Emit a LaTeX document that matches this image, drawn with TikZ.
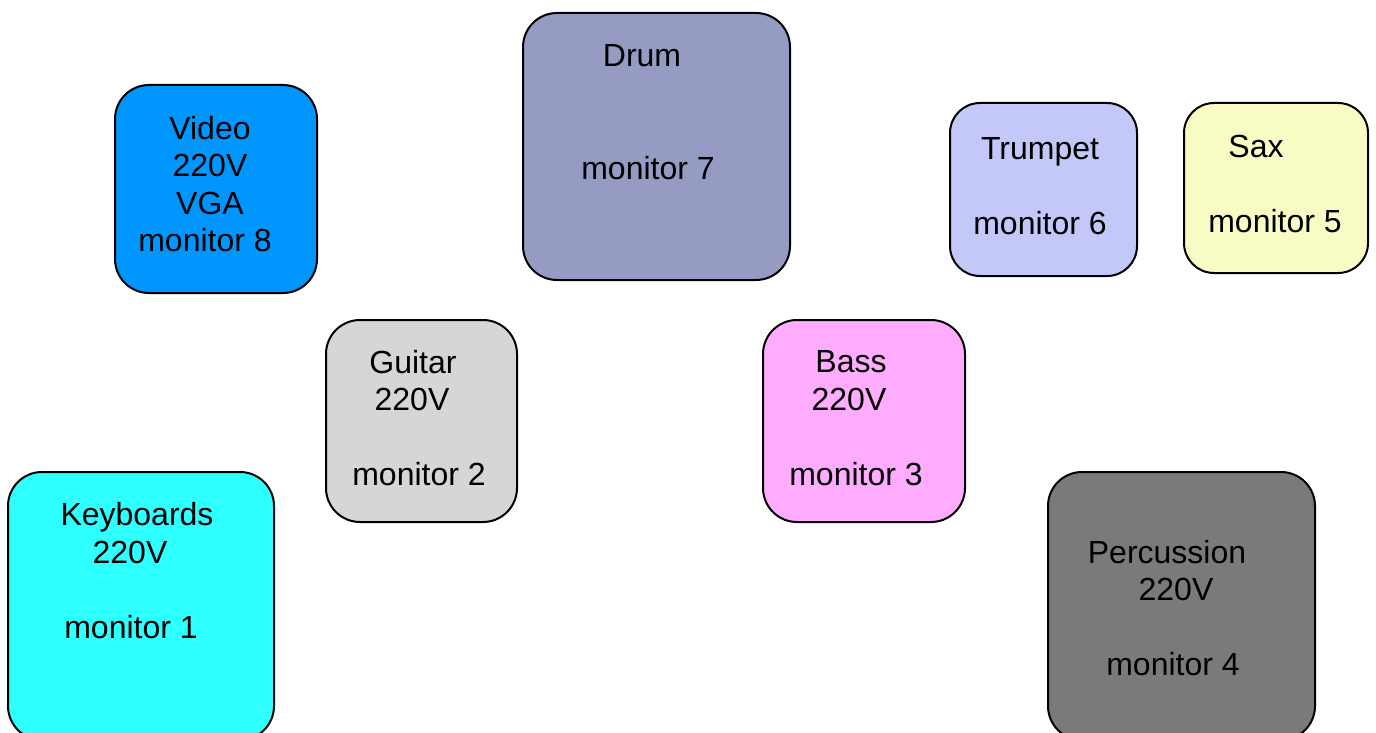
\documentclass[tikz,border=0pt]{standalone}
\usepackage{fontspec}
\setmainfont{Liberation Sans}
\usetikzlibrary{positioning}

\definecolor{videoblue}{RGB}{0,150,255}
\definecolor{drumblue}{RGB}{150,155,195}
\definecolor{trumpetblue}{RGB}{195,200,248}
\definecolor{saxyellow}{RGB}{248,251,195}
\definecolor{guitargray}{RGB}{214,214,214}
\definecolor{basspink}{RGB}{255,172,255}
\definecolor{keyscyan}{RGB}{46,255,255}
\definecolor{percgray}{RGB}{122,122,122}

\tikzset{
  stagebox/.style={draw=black, line width=1pt, rounded corners=17pt},
  stagetext/.style={align=center, inner sep=0pt,
    font=\fontsize{16}{18.75}\selectfont}
}

\begin{document}
\begin{tikzpicture}[x=0.5pt, y=-0.5pt]
  \useasboundingbox (0,0) rectangle (1376,733);
  % instruments
  \node [stagebox, fill=videoblue, minimum width=101pt, minimum height=104pt] (video) at (216,189) {};
  \node [stagebox, fill=drumblue, minimum width=133.5pt, minimum height=133.5pt] (drum) at (656.5,146.5) {};
  \node [stagebox, fill=trumpetblue, minimum width=93.5pt, minimum height=86.5pt, rounded corners=15pt] (trumpet) at (1043.5,189.5) {};
  \node [stagebox, fill=saxyellow, minimum width=92pt, minimum height=85pt, rounded corners=15pt] (sax) at (1276,188) {};
  \node [stagebox, fill=guitargray, minimum width=95.5pt, minimum height=101pt] (guitar) at (421.5,421) {};
  \node [stagebox, fill=basspink, minimum width=101pt, minimum height=101pt] (bass) at (864,421) {};
  \node [stagebox, fill=keyscyan, minimum width=133pt, minimum height=134pt] (keys) at (141,606) {};
  \node [stagebox, fill=percgray, minimum width=133.5pt, minimum height=134pt] (perc) at (1181.5,606) {};
  % labels
  \node [stagetext] (videotext) at (205,184) {\hspace*{5pt}Video\\\hspace*{5pt}220V\\\hspace*{5pt}VGA\\monitor 8};
  \node [stagetext] (drumtext) at (648,112) {\hspace*{-6pt}Drum\\[37.5pt]monitor 7};
  \node [stagetext] (trumpettext) at (1040,186.5) {Trumpet\\[18.75pt]monitor 6};
  \node [stagetext] (saxtext) at (1275,183.5) {\hspace*{-19pt}Sax\\[18.75pt]monitor 5};
  \node [stagetext] (guitartext) at (419,418) {\hspace*{-6pt}Guitar\\\hspace*{-7pt}220V\\[18.75pt]monitor 2};
  \node [stagetext] (basstext) at (856,418) {\hspace*{-5pt}Bass\\\hspace*{-7pt}220V\\[18.75pt]monitor 3};
  \node [stagetext] (keystext) at (137,570.5) {Keyboards\\\hspace*{-7pt}220V\\[18.75pt]\hspace*{-6pt}monitor 1};
  \node [stagetext] (perctext) at (1167,608) {Percussion\\\hspace*{9pt}220V\\[18.75pt]\hspace*{6pt}monitor 4};
\end{tikzpicture}
\end{document}
